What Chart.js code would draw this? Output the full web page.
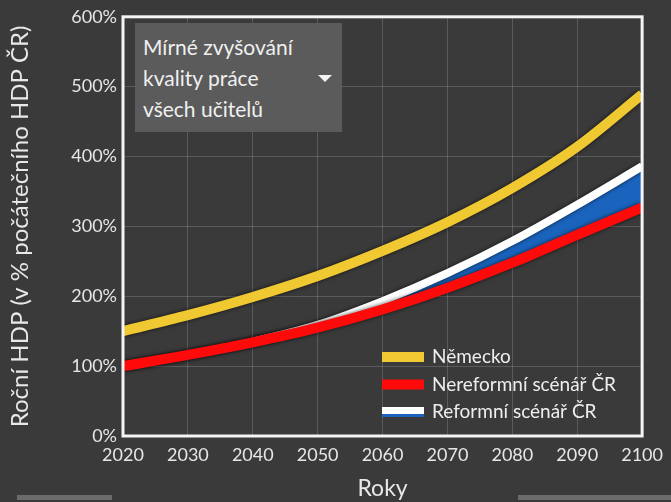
<!DOCTYPE html>
<html lang="cs">
<head>
<meta charset="utf-8">
<script src="https://cdn.jsdelivr.net/npm/chart.js@4.4.0/dist/chart.umd.min.js"></script>
<style>
    html, body { margin: 0; padding: 0; background: #3a3a3a; }
    #wrap { position: relative; width: 671px; height: 502px; overflow: hidden; }
    #dropdown {
        position: absolute; left: 135px; top: 23px; width: 207px; height: 109px;
        background: #5b5b5b; color: #f0f0f0; font-family: Lato, sans-serif;
        font-size: 21px; line-height: 31px; box-sizing: border-box; padding: 8px 0 0 8px;
    }
    #dropdown .arrow {
        position: absolute; left: 183px; top: 52px; width: 0; height: 0;
        border-left: 7px solid transparent; border-right: 7px solid transparent;
        border-top: 7px solid #f4f4f4;
    }
    .bar { position: absolute; top: 495px; height: 5px; background: #6b6b6b; }
</style>
</head>
<body>
<div id="wrap">
    <canvas id="gdpChart" width="671" height="502"></canvas>
    <div id="dropdown">Mírné zvyšování<br>kvality práce<br>všech učitelů<span class="arrow"></span></div>
    <div class="bar" style="left:17px;width:95px"></div>
    <div class="bar" style="left:518px;width:153px"></div>
</div>
<script>
    // Data (% of initial Czech GDP)
    const years = [2020, 2030, 2040, 2050, 2060, 2070, 2080, 2090, 2100];
    const germany = [150, 173, 199, 229, 265, 306, 355, 414, 489];
    const noReform = [100, 116, 134, 155, 181, 212, 248, 288, 327];
    const reform = [100, 116, 135, 159, 193, 233, 279, 331, 386];
    const yTicks = [0, 100, 200, 300, 400, 500, 600];

    const legendItems = [
        { label: 'Německo', color: '#f0c832' },
        { label: 'Nereformní scénář ČR', color: '#ff0a0a' },
        { label: 'Reformní scénář ČR', color: '#ffffff', under: '#1a64be' }
    ];

    const toPoints = arr => arr.map((v, i) => ({ x: years[i], y: v }));

    // Soft dark shadow under the lines
    const shadowPlugin = {
        id: 'lineShadow',
        beforeDatasetDraw(chart) {
            const ctx = chart.ctx;
            ctx.save();
            ctx.shadowColor = 'rgba(0, 0, 0, 0.7)';
            ctx.shadowBlur = 4;
        },
        afterDatasetDraw(chart) {
            chart.ctx.restore();
        }
    };

    // White frame around the plot area
    const framePlugin = {
        id: 'frame',
        afterDatasetsDraw(chart) {
            const { ctx, chartArea: a } = chart;
            ctx.save();
            ctx.strokeStyle = '#f4f4f4';
            ctx.lineWidth = 3;
            ctx.strokeRect(a.left, a.top, a.right - a.left, a.bottom - a.top);
            ctx.restore();
        }
    };

    // Legend inside the plot, lower right
    const legendPlugin = {
        id: 'innerLegend',
        afterDraw(chart) {
            const ctx = chart.ctx;
            ctx.save();
            ctx.font = '19px Lato, sans-serif';
            ctx.textBaseline = 'middle';
            legendItems.forEach((item, i) => {
                const y = 357 + i * 27.5;
                if (item.under) {
                    ctx.fillStyle = item.color;
                    ctx.fillRect(382, y - 5, 42, 7);
                    ctx.fillStyle = item.under;
                    ctx.fillRect(382, y + 2, 42, 3);
                } else {
                    ctx.fillStyle = item.color;
                    ctx.fillRect(382, y - 5, 42, 10);
                }
                ctx.fillStyle = '#eeeeee';
                ctx.fillText(item.label, 432, y);
            });
            ctx.restore();
        }
    };

    const lineStyle = {
        pointRadius: 0,
        cubicInterpolationMode: 'monotone'
    };

    const ctx = document.getElementById('gdpChart').getContext('2d');
    new Chart(ctx, {
        type: 'line',
        data: {
            datasets: [{
                ...lineStyle,
                label: legendItems[0].label,
                data: toPoints(germany),
                borderColor: legendItems[0].color,
                borderWidth: 10,
                fill: false
            }, {
                ...lineStyle,
                label: legendItems[1].label,
                data: toPoints(noReform),
                borderColor: legendItems[1].color,
                borderWidth: 10,
                fill: false
            }, {
                ...lineStyle,
                label: legendItems[2].label,
                data: toPoints(reform),
                borderColor: legendItems[2].color,
                backgroundColor: legendItems[2].under,
                borderWidth: 8,
                fill: { target: 1 }
            }]
        },
        options: {
            responsive: false,
            animation: false,
            layout: { padding: { left: 0, top: 14, right: 24, bottom: 0 } },
            plugins: {
                legend: { display: false },
                tooltip: { enabled: false }
            },
            scales: {
                x: {
                    type: 'linear',
                    min: years[0],
                    max: years[years.length - 1],
                    afterBuildTicks: scale => {
                        scale.ticks = years.map(v => ({ value: v }));
                    },
                    afterFit: scale => { scale.height = 66; },
                    grid: { color: 'rgba(255, 255, 255, 0.17)', drawTicks: false },
                    border: { display: false },
                    ticks: {
                        color: '#e6e6e6',
                        font: { family: 'Lato, sans-serif', size: 18 },
                        padding: 8,
                        maxRotation: 0,
                        callback: v => String(v)
                    },
                    title: {
                        display: true,
                        text: 'Roky',
                        color: '#e8e8e8',
                        font: { family: 'Lato, sans-serif', size: 23 },
                        padding: { top: 2, bottom: 0 }
                    }
                },
                y: {
                    min: yTicks[0],
                    max: yTicks[yTicks.length - 1],
                    afterBuildTicks: scale => {
                        scale.ticks = yTicks.map(v => ({ value: v }));
                    },
                    afterFit: scale => { scale.width = 123; },
                    grid: { color: 'rgba(255, 255, 255, 0.17)', drawTicks: false },
                    border: { display: false },
                    ticks: {
                        color: '#e6e6e6',
                        font: { family: 'Lato, sans-serif', size: 18 },
                        padding: 6,
                        callback: v => v + '%'
                    },
                    title: {
                        display: true,
                        text: 'Roční HDP (v % počátečního HDP ČR)',
                        color: '#e8e8e8',
                        font: { family: 'Lato, sans-serif', size: 24 },
                        padding: { top: 6, bottom: 2 }
                    }
                }
            }
        },
        plugins: [shadowPlugin, framePlugin, legendPlugin]
    });
</script>
</body>
</html>
